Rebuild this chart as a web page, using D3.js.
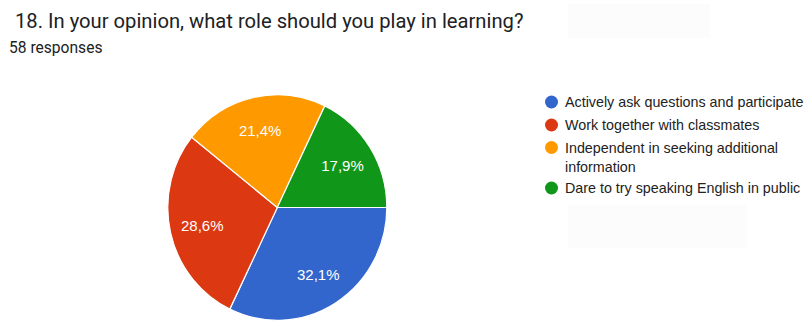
<!DOCTYPE html>
<html>
<head>
<meta charset="utf-8">
<script src="https://cdn.jsdelivr.net/npm/d3@7"></script>
<style>
  html, body { margin: 0; padding: 0; background: #ffffff; }
  svg { display: block; }
</style>
</head>
<body>
<svg id="chart" width="805" height="322"></svg>
<script>
// Survey answers (56 counted answers)
const categories = [
  "Actively ask questions and participate",
  "Work together with classmates",
  "Independent in seeking additional information",
  "Dare to try speaking English in public"
];
const counts = [18, 16, 12, 10];
const percentLabels = ["32,1%", "28,6%", "21,4%", "17,9%"];
const legendLines = [
  ["Actively ask questions and participate"],
  ["Work together with classmates"],
  ["Independent in seeking additional", "information"],
  ["Dare to try speaking English in public"]
];
const colors = ["#3366cc", "#dc3912", "#ff9900", "#109618"];
const title = "18. In your opinion, what role should you play in learning?";
const subtitle = "58 responses";

const svg = d3.select("#chart");

// faint placeholder panels
svg.append("rect").attr("x", 568).attr("y", 4).attr("width", 142).attr("height", 34).attr("fill", "#fcfcfc");
svg.append("rect").attr("x", 568).attr("y", 205).attr("width", 178).attr("height", 43).attr("fill", "#fcfcfc");

svg.append("text")
  .attr("x", 15).attr("y", 28)
  .attr("font-family", "Roboto, sans-serif")
  .attr("font-size", 20.2)
  .attr("fill", "#202124")
  .text(title);

svg.append("text")
  .attr("x", 9).attr("y", 53)
  .attr("font-family", "Roboto, sans-serif")
  .attr("font-size", 15.6)
  .attr("fill", "#202124")
  .text(subtitle);

// Pie
const cx = 277.3, cy = 207.5, r = 109.5;
const pie = d3.pie().sort(null).value(d => d)
  .startAngle(Math.PI / 2).endAngle(Math.PI / 2 + 2 * Math.PI);
const arcs = pie(counts);
const arc = d3.arc().innerRadius(0).outerRadius(r);
const labelArc = d3.arc().innerRadius(77).outerRadius(77);

const g = svg.append("g").attr("transform", `translate(${cx},${cy})`);
g.append("g").attr("transform", "scale(1,1.03)")
  .selectAll("path")
  .data(arcs)
  .join("path")
  .attr("d", arc)
  .attr("fill", (d, i) => colors[i])
  .attr("stroke", "#ffffff")
  .attr("stroke-width", 1.2)
  .attr("stroke-linejoin", "round");

g.selectAll("text.pct")
  .data(arcs)
  .join("text")
  .attr("class", "pct")
  .attr("transform", d => {
    const [x, y] = labelArc.centroid(d);
    return `translate(${x},${y * 1.03})`;
  })
  .attr("text-anchor", "middle")
  .attr("dominant-baseline", "central")
  .attr("font-family", "Arial, 'Liberation Sans', sans-serif")
  .attr("font-size", 15)
  .attr("fill", "#ffffff")
  .text((d, i) => percentLabels[i]);

// Legend
const legendY = [102, 125, 147.5, 188];
const lg = svg.append("g");
categories.forEach((c, i) => {
  const row = lg.append("g").attr("transform", `translate(0,${legendY[i]})`);
  row.append("circle")
    .attr("cx", 551.5).attr("cy", 0).attr("r", 6.5)
    .attr("fill", colors[i]);
  legendLines[i].forEach((line, j) => {
    row.append("text")
      .attr("x", 565).attr("y", j * 19)
      .attr("dominant-baseline", "central")
      .attr("font-family", "Arial, 'Liberation Sans', sans-serif")
      .attr("font-size", 14.3)
      .attr("fill", "#222222")
      .text(line);
  });
});
</script>
</body>
</html>
